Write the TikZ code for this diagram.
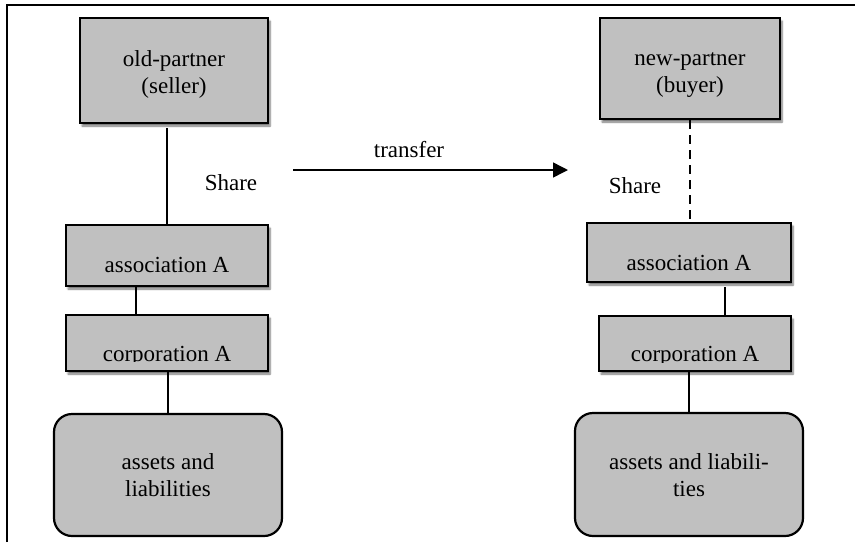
\documentclass[tikz,border=0pt]{standalone}
\usepackage{fontspec}
\setmainfont{Liberation Serif}
\usetikzlibrary{arrows.meta,shadows.blur}
\definecolor{boxgray}{RGB}{192,192,192}
\begin{document}
\begin{tikzpicture}[x=1pt,y=-1pt,
  box/.style={draw=black, line width=2pt, fill=boxgray, inner sep=0pt,
    blur shadow={shadow xshift=2pt, shadow yshift=-3pt, shadow blur steps=6, shadow opacity=55}},
  rbox/.style={draw=black, line width=2.2pt, fill=boxgray, inner sep=0pt, rounded corners=18pt},
  lbl/.style={inner sep=0pt, anchor=base, font=\fontsize{23}{27}\selectfont, align=center},
  conn/.style={line width=2.8pt},
  dconn/.style={line width=2.8pt, dash pattern=on 9pt off 6pt},
  arr/.style={line width=1.5pt, -{Triangle[length=15pt,width=15pt]}}
]
\useasboundingbox (0,0) rectangle (855,542);
\draw[line width=2.2pt] (7,542) -- (7,5) -- (855,5);

% left column
\node[box, minimum width=188pt, minimum height=105pt] (old) at (174,70.5) {};
\node[lbl] (oldT) at (174,93) {old-partner\\(seller)};
\node[box, minimum width=202pt, minimum height=61pt] (assocL) at (167,255.5) {};
\node[lbl] (assocLT) at (167,272) {association A};
\node[box, minimum width=202pt, minimum height=56pt] (corpL) at (167,343) {};
\begin{scope}
  \clip (66,315) rectangle (268,361.5);
  \node[lbl] (corpLT) at (167,361) {corporation A};
\end{scope}
\node[rbox, minimum width=228pt, minimum height=122pt] (assetsL) at (168,475) {};
\node[lbl] (assetsLT) at (168,496) {assets and\\liabilities};
\node[lbl] (shareL) at (231,190) {Share};

% right column
\node[box, minimum width=180pt, minimum height=101pt] (new) at (690,68.5) {};
\node[lbl] (newT) at (690,92) {new-partner\\(buyer)};
\node[box, minimum width=204pt, minimum height=59pt] (assocR) at (689,252.5) {};
\node[lbl] (assocRT) at (689,270) {association A};
\node[box, minimum width=192pt, minimum height=55pt] (corpR) at (695,343.5) {};
\begin{scope}
  \clip (599,316) rectangle (791,362);
  \node[lbl] (corpRT) at (695,361.5) {corporation A};
\end{scope}
\node[rbox, minimum width=228pt, minimum height=123pt] (assetsR) at (689,474.5) {};
\node[lbl] (assetsRT) at (689,496) {assets and liabili-\\ties};
\node[lbl] (shareR) at (635,193) {Share};

% connectors
\draw[conn, shorten <=4pt] (old.south -| assocL.north) -- (assocL.north);
\draw[conn] ([xshift=-31pt]assocL.south) -- ([xshift=-31pt]assocL.south |- corpL.north);
\draw[conn] (corpL.south -| assetsL.north) -- (assetsL.north);

\draw[dconn] (new.south) -- (new.south |- assocR.north);
\draw[conn, shorten <=4pt] ([xshift=36pt]assocR.south) -- ([xshift=36pt]assocR.south |- corpR.north);
\draw[conn] (corpR.south -| assetsR.north) -- (assetsR.north);

% transfer
\coordinate (tA) at (293,170);
\coordinate (tB) at (568,170);
\draw[arr] (tA) -- (tB);
\node[lbl] (transferT) at (409,157) {transfer};
\end{tikzpicture}
\end{document}
